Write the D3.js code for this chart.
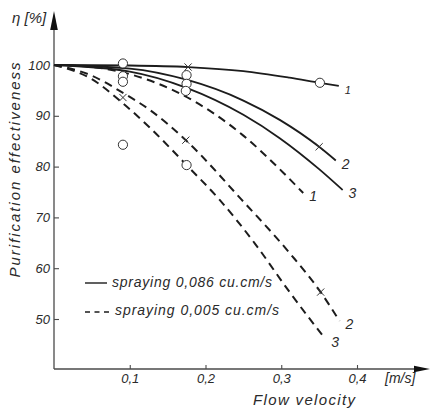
<!DOCTYPE html>
<html>
<head>
<meta charset="utf-8">
<script src="https://cdn.jsdelivr.net/npm/d3@7"></script>
<style>
  html, body { margin: 0; padding: 0; background: #fff; }
  svg { display: block; }
  text { font-family: "Liberation Sans", Arial, sans-serif; font-style: italic; fill: #2a2a2a; }
</style>
</head>
<body>
<svg id="chart" width="430" height="412"></svg>
<script>
// Flow velocity [m/s] vs purification effectiveness η [%]
const xTickValues = [0.1, 0.2, 0.3, 0.4];
const xTickLabels = ["0,1", "0,2", "0,3", "0,4"];
const yTickValues = [50, 60, 70, 80, 90, 100];
const yTickLabels = ["50", "60", "70", "80", "90", "100"];

// spraying 0,086 cu.cm/s (solid), curves 1–3
const solid1 = [[0, 100], [0.1, 99.9], [0.177, 99.6], [0.25, 98.8], [0.311, 97.5], [0.351, 96.5], [0.376, 95.9]];
const solid2 = [[0, 100], [0.1, 99.3], [0.175, 97.1], [0.25, 93.0], [0.298, 89.2], [0.35, 83.9], [0.372, 81.2]];
const solid3 = [[0, 100], [0.1, 98.7], [0.175, 95.5], [0.25, 90.2], [0.298, 85.6], [0.35, 79.5], [0.381, 75.4]];

// spraying 0,005 cu.cm/s (dashed), curves 1–3
const dashed1 = [[0, 100], [0.05, 99.6], [0.1, 98.2], [0.17, 94.1], [0.25, 86.1], [0.302, 78.9], [0.329, 74.8]];
const dashed2 = [[0, 100], [0.05, 97.9], [0.09, 94.6], [0.127, 91.1], [0.174, 85.2], [0.247, 73.6], [0.311, 63.0], [0.352, 55.3], [0.377, 49.6]];
const dashed3 = [[0, 100], [0.05, 97.2], [0.09, 92.6], [0.127, 87.6], [0.175, 80.3], [0.219, 73.4], [0.265, 64.9], [0.311, 55.3], [0.358, 46.1]];

const curveNames = ["1", "2", "3", "1", "2", "3"];

// measured points
const circleV   = [0.091, 0.091, 0.091, 0.091, 0.175, 0.175, 0.174, 0.175, 0.351];
const circleEta = [100.3, 97.8, 96.7, 84.3, 98.0, 96.3, 94.9, 80.3, 96.5];
const crossV    = [0.091, 0.177, 0.174, 0.350, 0.352];
const crossEta  = [93.6, 99.6, 85.2, 83.9, 55.3];

const legendLabels = ["spraying 0,086 cu.cm/s", "spraying 0,005 cu.cm/s"];

const svg = d3.select("#chart");
const ink = "#1c1c1c";
const axisInk = "#4a4a4a";

const x = d3.scaleLinear().domain([0, 0.4]).range([54, 357]);
const y = d3.scaleLinear().domain([50, 100]).range([319, 65]);
const x0 = 54, yBase = 369;

// axes lines with arrowheads
svg.append("line").attr("x1", x0).attr("y1", yBase).attr("x2", x0).attr("y2", 24)
  .attr("stroke", axisInk).attr("stroke-width", 1.3);
svg.append("path").attr("d", `M${x0},11 L${x0 - 3.8},30 L${x0 + 3.8},30 Z`).attr("fill", "#111");
svg.append("line").attr("x1", x0).attr("y1", yBase).attr("x2", 418).attr("y2", yBase)
  .attr("stroke", axisInk).attr("stroke-width", 1.3);
svg.append("path").attr("d", `M430,${yBase} L414,${yBase - 3.2} L414,${yBase + 3.2} Z`).attr("fill", "#111");

// y axis ticks (pointing inward) and labels
const yAxis = d3.axisLeft(y).tickValues(yTickValues)
  .tickFormat((d, i) => yTickLabels[i]).tickSizeInner(-5).tickSizeOuter(0).tickPadding(4);
const gy = svg.append("g").attr("transform", `translate(${x0},0)`).call(yAxis);
gy.select(".domain").remove();
gy.selectAll("line").attr("stroke", axisInk).attr("stroke-width", 1.1);
gy.selectAll("text").attr("font-size", 13).attr("font-family", "Liberation Sans, Arial, sans-serif")
  .attr("font-style", "italic").attr("fill", "#2a2a2a");

// x axis ticks and labels
const xAxis = d3.axisBottom(x).tickValues(xTickValues)
  .tickFormat((d, i) => xTickLabels[i]).tickSizeInner(-4).tickSizeOuter(0).tickPadding(5);
const gx = svg.append("g").attr("transform", `translate(0,${yBase})`).call(xAxis);
gx.select(".domain").remove();
gx.selectAll("line").attr("stroke", axisInk).attr("stroke-width", 1.1);
gx.selectAll("text").attr("font-size", 13).attr("font-family", "Liberation Sans, Arial, sans-serif")
  .attr("font-style", "italic").attr("fill", "#2a2a2a");

// axis titles
svg.append("text").attr("x", 12).attr("y", 23).attr("font-size", 15).text("η [%]");
svg.append("text").attr("x", 385).attr("y", 383).attr("font-size", 14).text("[m/s]");
svg.append("text").attr("x", 253).attr("y", 405).attr("font-size", 15)
  .attr("textLength", 102).attr("lengthAdjust", "spacing").text("Flow velocity");
svg.append("text").attr("transform", "translate(20,170) rotate(-90)")
  .attr("text-anchor", "middle").attr("font-size", 15)
  .attr("textLength", 215).attr("lengthAdjust", "spacing").text("Purification effectiveness");

// curves
const line = d3.line().x(d => x(d[0])).y(d => y(d[1])).curve(d3.curveMonotoneX);
const series = [solid1, solid2, solid3, dashed1, dashed2, dashed3];
series.forEach((s, i) => {
  const dashed = i >= 3;
  svg.append("path").datum(s).attr("d", line)
    .attr("fill", "none").attr("stroke", ink)
    .attr("stroke-width", dashed ? 2 : 1.8)
    .attr("stroke-dasharray", dashed ? "8,5.5" : null)
    .attr("stroke-linecap", "butt");
  const end = s[s.length - 1];
  svg.append("text").attr("x", x(end[0]) + 6).attr("y", y(end[1]) + 8)
    .attr("font-size", i === 0 ? 11 : 14).text(curveNames[i]);
});

// measured points
const sym = svg.append("g");
circleV.forEach((v, i) => {
  sym.append("circle").attr("cx", x(v)).attr("cy", y(circleEta[i])).attr("r", 4.6)
    .attr("fill", "#fff").attr("stroke", "#333").attr("stroke-width", 1);
});
crossV.forEach((v, i) => {
  const cx = x(v), cy = y(crossEta[i]), h = 3.6;
  sym.append("path")
    .attr("d", `M${cx - h},${cy - h}L${cx + h},${cy + h}M${cx - h},${cy + h}L${cx + h},${cy - h}`)
    .attr("stroke", "#333").attr("stroke-width", 1).attr("fill", "none");
});

// legend
const lg = svg.append("g");
lg.append("line").attr("x1", 85).attr("x2", 107).attr("y1", 283).attr("y2", 283)
  .attr("stroke", ink).attr("stroke-width", 1.4);
lg.append("text").attr("x", 112).attr("y", 287).attr("font-size", 14)
  .attr("textLength", 160).attr("lengthAdjust", "spacing").text(legendLabels[0]);
lg.append("line").attr("x1", 85).attr("x2", 112).attr("y1", 312).attr("y2", 312)
  .attr("stroke", ink).attr("stroke-width", 1.4).attr("stroke-dasharray", "5,4.5");
lg.append("text").attr("x", 115).attr("y", 315).attr("font-size", 14)
  .attr("textLength", 164).attr("lengthAdjust", "spacing").text(legendLabels[1]);
</script>
</body>
</html>
